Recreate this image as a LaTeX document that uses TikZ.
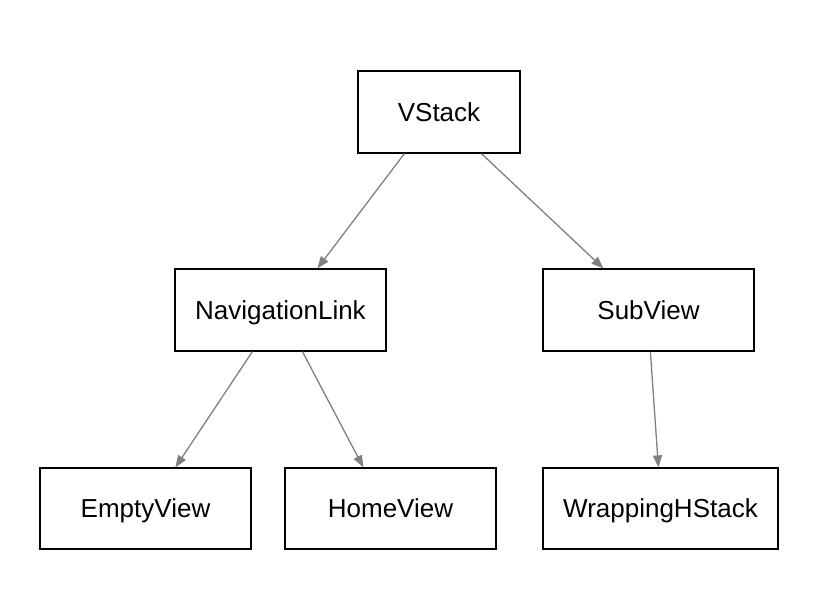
\documentclass[tikz,border=0pt]{standalone}
\usepackage{fontspec}
\setmainfont{Liberation Sans}
\usetikzlibrary{arrows.meta,calc}
\begin{document}
\begin{tikzpicture}[x=1pt,y=-1pt,
  box/.style={draw=black,line width=1.2pt,fill=white,inner sep=0pt,text height=18.6pt,text depth=0pt,font=\fontsize{26}{30}\selectfont},
  arr/.style={draw={rgb,255:red,128;green,128;blue,128},line width=1.3pt,-{Triangle[length=12pt,width=9pt]}}]
\useasboundingbox (0,0) rectangle (836,608);
\node[box,minimum width=162pt,minimum height=82pt] (v) at (439,112) {VStack};
\node[box,minimum width=211pt,minimum height=82pt] (nl) at (280.5,310) {NavigationLink};
\node[box,minimum width=211pt,minimum height=82pt] (sv) at (648.5,310) {SubView};
\node[box,minimum width=211pt,minimum height=81pt] (ev) at (145.5,508.5) {EmptyView};
\node[box,minimum width=211pt,minimum height=81pt] (hv) at (390.5,508.5) {HomeView};
\node[box,minimum width=235pt,minimum height=81pt] (wh) at (660.5,508.5) {WrappingHStack};
\draw[arr] ($(v.south west)+(47,0)$) -- ($(nl.north west)+(143,0)$);
\draw[arr] ($(v.south west)+(124,0)$) -- ($(sv.north west)+(61,0)$);
\draw[arr] ($(nl.south west)+(78,0)$) -- ($(ev.north west)+(136,0)$);
\draw[arr] ($(nl.south west)+(128,0)$) -- ($(hv.north west)+(79,0)$);
\draw[arr] ($(sv.south west)+(108,0)$) -- ($(wh.north west)+(116,0)$);
\end{tikzpicture}
\end{document}
